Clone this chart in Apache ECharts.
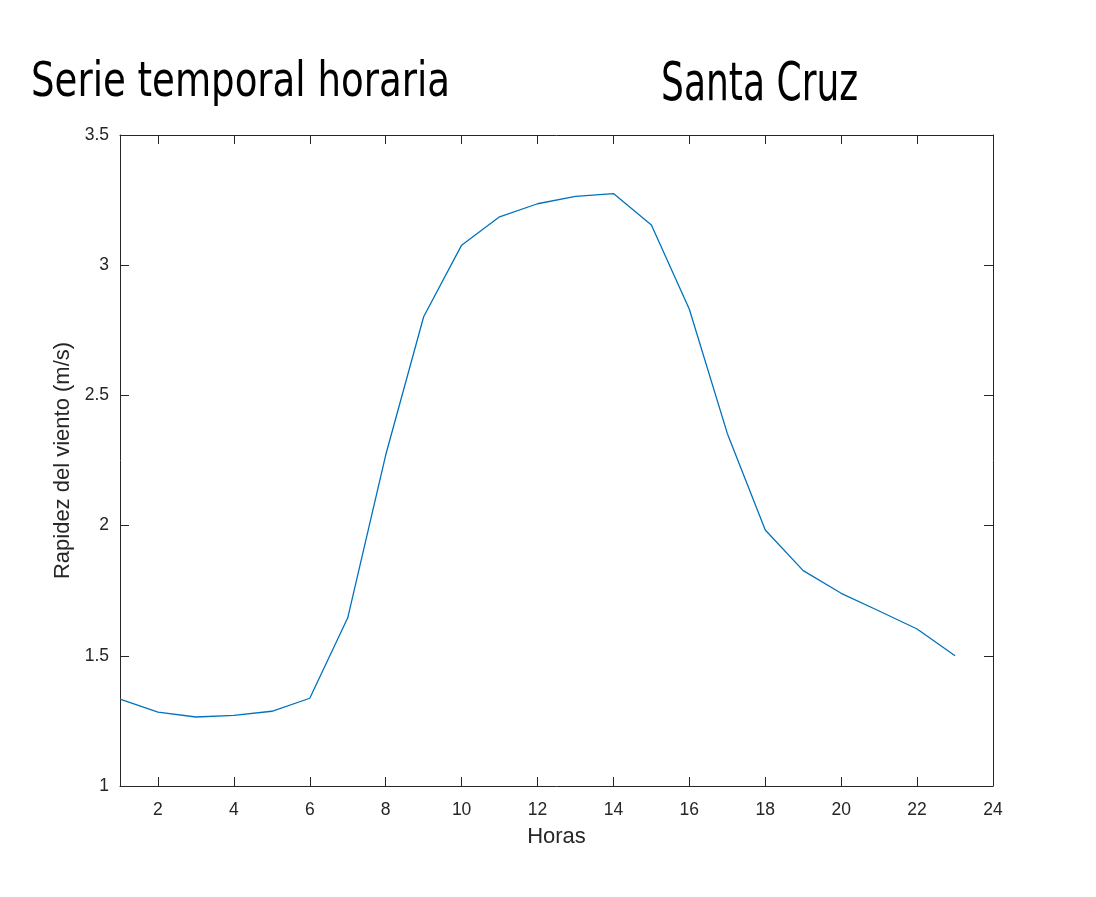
<!DOCTYPE html>
<html>
<head>
<meta charset="utf-8">
<script src="https://cdn.jsdelivr.net/npm/echarts@6/dist/echarts.min.js"></script>
<style>
html,body{margin:0;padding:0;background:#fff;}
#c{width:1096px;height:897px;}
</style>
</head>
<body>
<div id="c"></div>
<script>
const hours = [1,2,3,4,5,6,7,8,9,10,11,12,13,14,15,16,17,18,19,20,21,22,23];
const windSpeed = [1.334,1.284,1.265,1.271,1.287,1.337,1.646,2.271,2.802,3.077,3.186,3.236,3.264,3.275,3.154,2.831,2.354,1.983,1.827,1.740,1.672,1.603,1.500];
const xTicks = [2,4,6,8,10,12,14,16,18,20,22,24];
const yTicks = [1,1.5,2,2.5,3,3.5];
const titleLeft = 'Serie temporal horaria';
const titleRight = 'Santa Cruz';
const xName = 'Horas';
const yName = 'Rapidez del viento (m/s)';

const axisColor = '#262626';
const labelFont = 'Liberation Sans';
const chart = echarts.init(document.getElementById('c'), null, {renderer:'canvas'});
const tickCommon = {show:true, inside:true, length:9, lineStyle:{color:axisColor, width:1}};
chart.setOption({
  animation:false,
  backgroundColor:'#fff',
  graphic:[
    {type:'text', x:31, y:60, scaleX:0.773, scaleY:1,
     style:{text:titleLeft, font:'48px "DejaVu Sans"', fill:'#000', verticalAlign:'top', align:'left'}},
    {type:'text', x:661, y:60, scaleX:0.68, scaleY:1,
     style:{text:titleRight, font:'53px "DejaVu Sans"', fill:'#000', verticalAlign:'top', align:'left'}}
  ],
  grid:{left:120, right:103, top:135, bottom:111, containLabel:false},
  xAxis:[
    {type:'value', min:1, max:24, position:'bottom',
     name:xName, nameLocation:'middle', nameGap:40,
     nameTextStyle:{fontFamily:labelFont, fontSize:22, color:axisColor},
     axisLine:{show:true, onZero:false, lineStyle:{color:axisColor, width:1}},
     axisTick:Object.assign({customValues:xTicks}, tickCommon),
     axisLabel:{customValues:xTicks, fontFamily:labelFont, fontSize:17.5, color:axisColor, margin:15},
     splitLine:{show:false}},
    {type:'value', min:1, max:24, position:'top',
     axisLine:{show:true, onZero:false, lineStyle:{color:axisColor, width:1}},
     axisTick:Object.assign({customValues:xTicks}, tickCommon),
     axisLabel:{show:false},
     splitLine:{show:false}}
  ],
  yAxis:[
    {type:'value', min:1, max:3.5, interval:0.5, position:'left',
     name:yName, nameLocation:'middle', nameGap:44, nameRotate:90,
     nameTextStyle:{fontFamily:labelFont, fontSize:22, color:axisColor},
     axisLine:{show:true, onZero:false, lineStyle:{color:axisColor, width:1}},
     axisTick:Object.assign({customValues:yTicks}, tickCommon),
     axisLabel:{customValues:yTicks, fontFamily:labelFont, fontSize:17.5, color:axisColor, margin:11},
     splitLine:{show:false}},
    {type:'value', min:1, max:3.5, interval:0.5, position:'right',
     axisLine:{show:true, onZero:false, lineStyle:{color:axisColor, width:1}},
     axisTick:Object.assign({customValues:yTicks}, tickCommon),
     axisLabel:{show:false},
     splitLine:{show:false}}
  ],
  series:[{
    type:'line', xAxisIndex:0, yAxisIndex:0,
    data:hours.map((h,i)=>[h, windSpeed[i]]),
    showSymbol:false, symbol:'none',
    lineStyle:{color:'#0072BD', width:1.3},
    itemStyle:{color:'#0072BD'}
  }]
});
</script>
</body>
</html>
